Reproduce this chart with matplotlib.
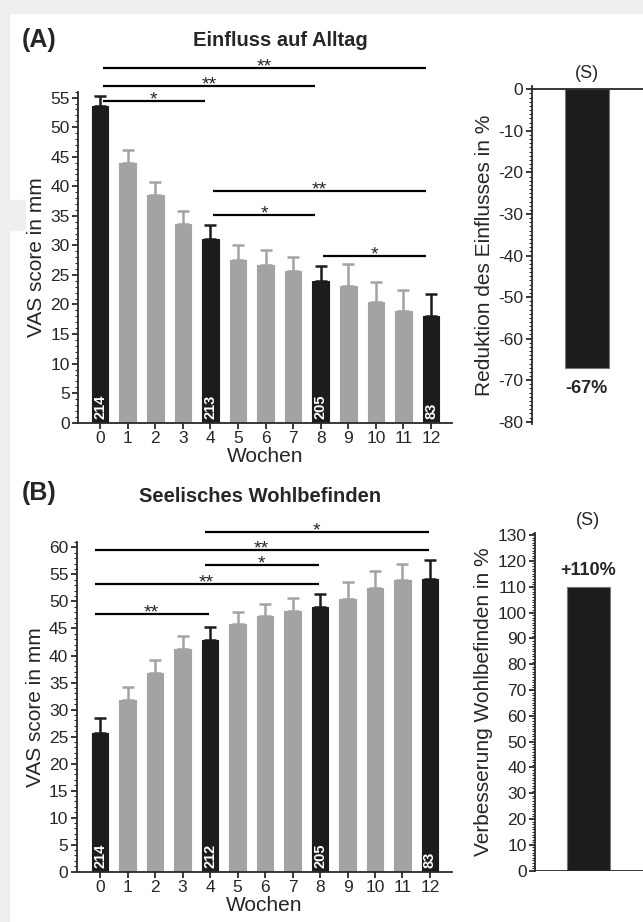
import matplotlib
matplotlib.use("Agg")
import matplotlib.pyplot as plt
from matplotlib.patches import Rectangle
from matplotlib.ticker import MultipleLocator

plt.rcParams['font.family'] = ['Liberation Sans', 'DejaVu Sans']
plt.rcParams['axes.unicode_minus'] = False

weeks = list(range(13))
highlight = [0, 4, 8, 12]

# Einfluss auf Alltag (A)
alltag_mean = [53.5, 44.0, 38.5, 33.6, 31.0, 27.5, 26.6, 25.6, 23.9, 23.2, 20.5, 18.9, 18.0]
alltag_err = [1.8, 2.2, 2.2, 2.3, 2.5, 2.5, 2.7, 2.5, 2.6, 3.6, 3.3, 3.5, 3.8]
alltag_n = ['214', '213', '205', '83']
alltag_sig = [(0, 12, '**'), (0, 8, '**'), (0, 4, '*'), (4, 12, '**'), (4, 8, '*'), (8, 12, '*')]
alltag_sig_level = [60.0, 57.0, 54.5, 39.2, 35.2, 28.2]
alltag_change = -67

# Seelisches Wohlbefinden (B)
wohl_mean = [25.7, 31.8, 36.7, 41.2, 42.8, 45.8, 47.3, 48.2, 49.0, 50.4, 52.5, 53.9, 54.1]
wohl_err = [2.7, 2.4, 2.4, 2.4, 2.5, 2.3, 2.3, 2.5, 2.4, 3.2, 3.2, 3.1, 3.5]
wohl_n = ['214', '212', '205', '83']
wohl_sig = [(4, 12, '*'), (0, 12, '**'), (4, 8, '*'), (0, 8, '**'), (0, 4, '**')]
wohl_sig_level = [62.8, 59.5, 56.7, 53.3, 47.6]
wohl_change = 110

DARK = '#1c1c1c'
GREY = '#a3a3a3'
SPINE = '#2a2a2a'
TXT = '#262626'

W, H = 643, 922
fig = plt.figure(figsize=(W / 100, H / 100), dpi=100)

# light grey page frame
fig.patches.append(Rectangle((0, 1 - 13 / H), 1, 13 / H, transform=fig.transFigure,
                             color='#efefef', zorder=0))
fig.patches.append(Rectangle((0, 0), 9 / W, 1, transform=fig.transFigure,
                             color='#efefef', zorder=0))
fig.patches.append(Rectangle((0, 1 - 230 / H), 25 / W, 30 / H, transform=fig.transFigure,
                             color='#efefef', zorder=0))


def px_axes(left, top, right, bottom):
    return fig.add_axes([left / W, 1 - bottom / H, (right - left) / W, (bottom - top) / H])


def style_axis(ax):
    for s in ['top', 'right']:
        ax.spines[s].set_visible(False)
    for s in ['left', 'bottom']:
        ax.spines[s].set_color(SPINE)
        ax.spines[s].set_linewidth(1.3)
    ax.tick_params(which='major', length=4, width=1.3, color=SPINE, labelsize=12.5,
                   labelcolor=TXT, pad=2)
    ax.tick_params(which='minor', length=2.2, width=0.8, color=SPINE)


def weekly_panel(ax, means, errs, counts, sig, levels, ymax, inset):
    colors = [DARK if w in highlight else GREY for w in weeks]
    ax.bar(weeks, means, width=0.6, color=colors, edgecolor=colors, linewidth=0.8, zorder=2)
    for w, m, e, c in zip(weeks, means, errs, colors):
        ax.errorbar(w, m, yerr=[[0], [e]], fmt='none', ecolor=c, elinewidth=1.8,
                    capsize=4, capthick=1.8, zorder=3)
    for w, n in zip(highlight, counts):
        ax.text(w, 0.6, n, rotation=90, ha='center', va='bottom', color='white',
                fontsize=10.5, fontweight='bold', zorder=4)
    for (a, b, lab), y in zip(sig, levels):
        ax.plot([a + inset[0], b + inset[1]], [y, y], color='black', lw=1.6,
                clip_on=False, solid_capstyle='butt', zorder=5)
        ax.annotate(lab, ((a + b) / 2 + (inset[0] + inset[1]) / 2, y), xytext=(0, -2.5),
                    textcoords='offset points', ha='center', va='baseline',
                    fontsize=14, color=TXT, annotation_clip=False)
    style_axis(ax)
    ax.set_ylim(0, ymax)
    ax.yaxis.set_major_locator(MultipleLocator(5))
    ax.yaxis.set_minor_locator(MultipleLocator(1))
    ax.set_xticks(weeks)
    ax.set_ylabel('VAS score in mm', fontsize=15, labelpad=3, color=TXT)
    ax.set_xlabel('Wochen', fontsize=15, labelpad=1, color=TXT)


def change_panel(ax, value, ylim, step, label, ylabel, top_zero):
    ax.bar([0], [value], width=1.0, color=DARK, edgecolor='#777777', linewidth=0.8, zorder=2)
    style_axis(ax)
    ax.spines['bottom'].set_visible(False)
    ax.axhline(0, color=SPINE, lw=1.3, zorder=3)
    ax.set_xlim(-1.25, 1.3)
    ax.set_ylim(*ylim)
    ax.set_xticks([])
    ax.yaxis.set_major_locator(MultipleLocator(step))
    ax.yaxis.set_minor_locator(MultipleLocator(1))
    ax.set_ylabel(ylabel, fontsize=15, labelpad=3, color=TXT)
    if top_zero:
        ax.text(0, value - 3, label, ha='center', va='top', fontsize=13,
                fontweight='bold', color=TXT)
        ax.text(0, ylim[1] + 1.0, '(S)', ha='center', va='bottom', fontsize=13,
                color=TXT, clip_on=False)
    else:
        ax.text(0, value + 3, label, ha='center', va='bottom', fontsize=13,
                fontweight='bold', color=TXT)
        ax.text(0, ylim[1] + 1.5, '(S)', ha='center', va='bottom', fontsize=13,
                color=TXT, clip_on=False)


# Panel A
axA = px_axes(78, 91.7, 452, 422.7)
weekly_panel(axA, alltag_mean, alltag_err, alltag_n, alltag_sig, alltag_sig_level,
             56, (0.1, -0.2))
axA.set_xlim(-0.8, 12.76)
axA.set_title('Einfluss auf Alltag', fontsize=14.5, fontweight='bold', pad=33, x=0.54,
              color=TXT)

axAr = px_axes(531.7, 86, 644, 423.8)
change_panel(axAr, alltag_change, (-80.5, 0.8), 10, f'{alltag_change}%',
             'Reduktion des Einflusses in %', True)

# Panel B
axB = px_axes(76.7, 542, 451.7, 871.7)
weekly_panel(axB, wohl_mean, wohl_err, wohl_n, wohl_sig, wohl_sig_level,
             61, (-0.2, -0.05))
axB.set_xlim(-0.85, 12.79)
axB.set_title('Seelisches Wohlbefinden', fontsize=14.5, fontweight='bold', pad=29, x=0.49,
              color=TXT)

axBr = px_axes(535, 532.5, 644, 870.7)
change_panel(axBr, wohl_change, (0, 131), 10, f'+{wohl_change}%',
             'Verbesserung Wohlbefinden in %', False)

fig.text(22 / W, 1 - 40 / H, '(A)', fontsize=18, fontweight='bold', va='center', color=TXT)
fig.text(22 / W, 1 - 493 / H, '(B)', fontsize=18, fontweight='bold', va='center', color=TXT)

fig.savefig('out.png', dpi=100)
